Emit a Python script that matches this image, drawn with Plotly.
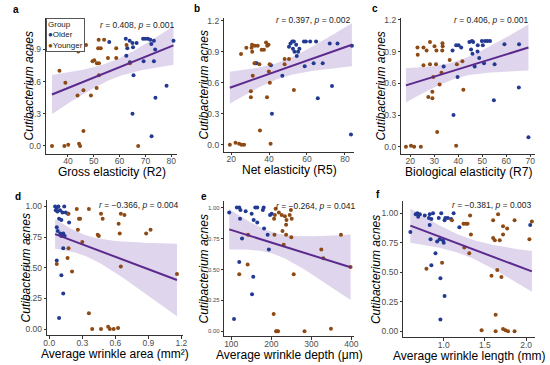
import numpy as np
import plotly.graph_objects as go

# ---------------- data ----------------
a_old_x = [56.0, 62.4, 63.9, 65.0, 66.6, 65.2, 63.0, 62.6, 64.0, 69.1, 70.0, 71.0, 71.9, 73.3, 72.3, 73.8, 80.9, 69.3, 73.3, 65.4, 78.2, 73.9, 65.0, 72.4]
a_old_y = [0.97, 1.00, 0.98, 0.96, 0.96, 0.92, 0.91, 0.84, 0.78, 1.00, 1.00, 1.00, 0.99, 0.98, 0.95, 0.90, 0.98, 0.79, 0.79, 0.66, 0.56, 0.45, 0.30, 0.09]
a_young_x = [33.8, 38.6, 40.1, 44.3, 44.7, 67.2, 46.0, 36.7, 39.0, 43.7, 46.0, 51.1, 48.9, 44.0, 44.3, 44.6, 44.0, 47.0, 51.9, 54.0, 51.7, 52.7, 49.5, 50.2, 51.2, 52.0, 55.5, 58.7, 58.7, 62.7, 64.0, 52.0]
a_young_y = [0.00, 0.00, 0.01, 0.02, 0.00, 0.00, 0.14, 0.70, 0.59, 0.47, 0.52, 0.54, 0.47, 0.95, 0.96, 0.94, 0.88, 0.94, 0.99, 0.99, 0.91, 0.91, 0.79, 0.80, 0.77, 0.77, 0.82, 0.82, 0.91, 0.94, 0.77, 0.66]

b_old_x = [32.8, 33.5, 41.0, 41.5, 47.0, 50.5, 51.3, 52.2, 53.1, 52.6, 54.3, 53.4, 54.6, 55.3, 56.0, 58.4, 59.4, 61.7, 64.8, 58.8, 63.5, 68.3, 72.0, 76.1, 83.7, 73.2, 65.7, 83.2]
b_old_y = [0.79, 0.79, 0.77, 0.30, 0.67, 0.95, 0.98, 1.00, 1.00, 0.93, 0.97, 0.90, 0.86, 0.90, 0.93, 1.00, 1.00, 1.00, 1.00, 0.76, 0.79, 0.79, 0.98, 0.98, 0.96, 0.57, 0.45, 0.10]
b_young_x = [19.3, 22.3, 24.2, 25.5, 26.8, 40.8, 35.2, 25.2, 28.0, 31.0, 30.8, 32.5, 31.1, 34.0, 36.1, 37.3, 39.0, 38.4, 39.7, 32.3, 34.9, 40.3, 48.2, 50.5, 40.4, 31.4, 30.4, 30.4, 38.9, 53.1, 39.9, 48.2]
b_young_y = [0.00, 0.02, 0.01, 0.00, 0.00, 0.01, 0.14, 0.88, 0.94, 0.97, 0.94, 0.96, 0.90, 0.96, 0.92, 0.92, 0.96, 0.99, 0.97, 0.79, 0.78, 0.78, 0.83, 0.83, 0.60, 0.67, 0.52, 0.46, 0.46, 0.53, 0.71, 0.78]

c_old_x = [33.9, 37.6, 39.1, 40.1, 41.2, 39.7, 38.0, 44.6, 45.7, 46.2, 45.3, 45.9, 46.8, 48.1, 48.0, 48.7, 49.8, 50.2, 51.1, 52.1, 53.2, 50.7, 55.1, 59.2, 65.3, 65.2, 54.8, 69.2]
c_old_y = [0.76, 0.91, 0.96, 0.96, 0.94, 0.66, 0.30, 0.99, 1.00, 0.99, 0.92, 0.88, 0.76, 0.96, 0.90, 0.84, 1.00, 0.96, 1.00, 1.00, 1.00, 0.79, 0.78, 0.97, 0.97, 0.56, 0.44, 0.09]
c_young_x = [18.2, 20.3, 21.6, 24.4, 39.1, 31.2, 23.0, 23.1, 25.5, 26.8, 28.2, 30.1, 30.9, 33.4, 33.5, 33.3, 25.5, 28.2, 30.7, 36.4, 39.4, 41.7, 33.0, 29.6, 32.2, 29.2, 27.5, 29.2, 42.1]
c_young_y = [0.00, 0.01, 0.00, 0.00, 0.01, 0.14, 0.94, 0.87, 0.94, 0.91, 0.99, 0.95, 0.91, 0.98, 0.95, 0.91, 0.77, 0.78, 0.78, 0.82, 0.78, 0.81, 0.70, 0.66, 0.59, 0.52, 0.47, 0.46, 0.54]

d_old_x = [0.053, 0.068, 0.083, 0.059, 0.074, 0.098, 0.12, 0.136, 0.15, 0.17, 0.089, 0.11, 0.18, 0.068, 0.077, 0.10, 0.127, 0.11, 0.14, 0.127, 0.068, 0.11, 0.127, 0.089]
d_old_y = [1.00, 0.99, 1.00, 0.97, 0.96, 0.97, 0.95, 1.00, 0.95, 0.94, 0.90, 0.89, 0.87, 0.83, 0.80, 0.78, 0.78, 0.76, 0.76, 0.66, 0.56, 0.44, 0.29, 0.09]
d_young_x = [0.25, 0.36, 0.47, 0.485, 0.27, 0.28, 0.175, 0.26, 0.44, 0.45, 0.30, 0.175, 0.166, 0.068, 0.207, 0.65, 0.683, 0.63, 0.64, 0.88, 0.92, 0.65, 1.16, 0.36, 0.39, 0.47, 0.535, 0.55, 0.585, 0.625]
d_young_y = [0.98, 0.98, 0.94, 0.90, 0.90, 0.90, 0.94, 0.81, 0.77, 0.76, 0.71, 0.66, 0.58, 0.53, 0.47, 0.94, 0.93, 0.86, 0.78, 0.78, 0.81, 0.51, 0.45, 0.13, 0.00, 0.00, 0.02, 0.00, 0.00, 0.01]

e_old_x = [95, 114, 120, 123, 136, 151, 160, 165, 181, 179, 197, 201, 122, 156, 165, 182, 191, 127, 194, 120, 155, 152, 107]
e_old_y = [0.96, 1.00, 1.00, 0.98, 0.97, 0.95, 1.00, 1.00, 1.00, 0.98, 0.94, 0.95, 0.91, 0.90, 0.88, 0.83, 0.78, 0.75, 0.66, 0.56, 0.44, 0.30, 0.10]
e_young_x = [211, 209, 207, 219, 226, 234, 246, 249, 251, 238, 237, 228, 237, 250, 208, 231, 142, 141, 120, 256, 325, 330, 374, 398, 206, 212, 214, 217, 283, 349]
e_young_y = [0.99, 0.94, 0.91, 0.96, 0.94, 0.93, 0.94, 0.98, 0.91, 0.90, 0.86, 0.81, 0.78, 0.76, 0.78, 0.70, 0.78, 0.54, 0.46, 0.46, 0.66, 0.59, 0.78, 0.52, 0.14, 0.00, 0.00, 0.00, 0.00, 0.02]

f_old_x = [0.595, 0.66, 0.68, 0.71, 0.69, 0.77, 0.83, 0.87, 0.82, 0.85, 0.83, 0.94, 0.97, 1.02, 1.01, 1.05, 1.12, 1.09, 1.19, 0.84, 0.95, 0.99, 1.00, 0.92, 0.90, 0.85, 0.96, 1.01, 0.96, 2.05]
f_old_y = [0.84, 0.99, 1.00, 0.99, 0.97, 0.98, 0.99, 1.00, 0.96, 0.95, 0.90, 0.96, 1.00, 0.96, 0.94, 0.96, 1.00, 0.95, 0.88, 0.78, 0.78, 0.77, 0.75, 0.76, 0.66, 0.56, 0.45, 0.30, 0.10, 0.90]
f_young_x = [0.79, 0.98, 1.10, 1.24, 1.27, 1.29, 1.32, 1.25, 1.31, 1.33, 1.60, 1.66, 1.72, 1.60, 1.62, 1.68, 1.72, 1.77, 1.86, 2.04, 2.07, 1.65, 1.58, 1.70, 1.63, 1.46, 1.63, 1.72, 1.75, 1.78, 1.86]
f_young_y = [0.53, 0.58, 0.94, 0.91, 0.91, 0.91, 0.98, 0.71, 0.66, 0.82, 0.94, 0.99, 0.89, 0.79, 0.77, 0.77, 0.82, 0.87, 0.94, 0.78, 0.93, 0.52, 0.47, 0.46, 0.14, 0.01, 0.00, 0.02, 0.01, 0.00, 0.00]

panel_letters = ["a", "b", "c", "d", "e", "f"]
x_titles = ["Gross elasticity (R2)", "Net elasticity (R5)", "Biological elasticity (R7)",
            "Average wrinkle area (mm²)", "Average wrinkle depth (μm)", "Average wrinkle length (mm)"]
y_title = "Cutibacterium acnes"
r_values = ["0.408", "0.397", "0.406", "\u22120.366", "\u22120.264", "\u22120.381"]
p_values = ["0.001", "0.002", "0.001", "0.004", "0.041", "0.003"]
group_names = ["Older", "Younger"]

panels = [
    (a_old_x, a_old_y, a_young_x, a_young_y),
    (b_old_x, b_old_y, b_young_x, b_young_y),
    (c_old_x, c_old_y, c_young_x, c_young_y),
    (d_old_x, d_old_y, d_young_x, d_young_y),
    (e_old_x, e_old_y, e_young_x, e_young_y),
    (f_old_x, f_old_y, f_young_x, f_young_y),
]

# ---------------- styling / layout ----------------
W, H = 550, 365
FONT = "Arial, Liberation Sans, sans-serif"
C_OLD = "#233a93"
C_YOUNG = "#8e4a14"
C_LINE = "#5b2a8c"
C_RIBBON = "rgba(140,105,190,0.28)"

# plot-area boxes in pixels: left, right, top, bottom
boxes = [(43, 176, 15, 152), (224, 356, 15, 150), (404, 540, 15, 152),
         (44, 182, 199, 335), (224, 356, 200, 336), (406, 540, 200, 337)]
x_ranges = [[31.6, 82.3], [16.4, 84.9], [16.3, 72.0], [-0.018, 1.215], [82.8, 407], [0.51, 2.11]]
y_ranges = [[-0.073, 1.194], [-0.067, 1.229], [-0.066, 1.219], [-0.05, 1.05], [-0.04, 1.05], [-0.05, 1.10]]
x_dticks = [10, 20, 10, 0.3, 100, 0.5]
x_fmt = ["d", "d", "d", ".1f", "d", ".1f"]
y_dticks = [0.3, 0.3, 0.3, 0.25, 0.25, 0.25]
y_fmt = [".1f", ".1f", ".1f", ".2f", ".2f", ".2f"]
ytick_sizes = [8.5, 8.5, 8.5, 8.5, 6, 8.5]


def t975(df):
    z = 1.959964
    return z + (z**3 + z) / (4 * df) + (5 * z**5 + 16 * z**3 + 3 * z) / (96 * df**2)


fig = go.Figure()
annotations = []
layout_axes = {}

for i, (ox, oy, yx, yy) in enumerate(panels):
    k = "" if i == 0 else str(i + 1)
    xa, ya = "x" + k, "y" + k
    L, R, T, B = boxes[i]

    # regression with 95% CI (as geom_smooth(method = "lm"))
    X = np.array(ox + yx, dtype=float)
    Y = np.array(oy + yy, dtype=float)
    n = len(X)
    xm = X.mean()
    sxx = ((X - xm) ** 2).sum()
    slope = ((X - xm) * (Y - Y.mean())).sum() / sxx
    icpt = Y.mean() - slope * xm
    resid = Y - (icpt + slope * X)
    s = np.sqrt((resid ** 2).sum() / (n - 2))
    gx = np.linspace(X.min(), X.max(), 80)
    gy = icpt + slope * gx
    se = s * np.sqrt(1.0 / n + (gx - xm) ** 2 / sxx)
    tq = t975(n - 2)
    lo, hi = gy - tq * se, gy + tq * se

    fig.add_trace(go.Scatter(x=np.concatenate([gx, gx[::-1]]), y=np.concatenate([hi, lo[::-1]]),
                             fill="toself", fillcolor=C_RIBBON, line=dict(width=0),
                             mode="lines", hoverinfo="skip", showlegend=False, xaxis=xa, yaxis=ya))
    fig.add_trace(go.Scatter(x=ox, y=oy, mode="markers", name=group_names[0],
                             marker=dict(color=C_OLD, size=4), showlegend=False, xaxis=xa, yaxis=ya))
    fig.add_trace(go.Scatter(x=yx, y=yy, mode="markers", name=group_names[1],
                             marker=dict(color=C_YOUNG, size=4), showlegend=False, xaxis=xa, yaxis=ya))
    fig.add_trace(go.Scatter(x=gx, y=gy, mode="lines", line=dict(color=C_LINE, width=2),
                             hoverinfo="skip", showlegend=False, xaxis=xa, yaxis=ya))

    common = dict(showgrid=False, zeroline=False, showline=True, linecolor="#333333", linewidth=1,
                  ticks="outside", ticklen=2.5, tickcolor="#333333", tickwidth=1)
    layout_axes["xaxis" + k] = dict(domain=[L / W, R / W], anchor=ya, range=x_ranges[i],
                                    dtick=x_dticks[i], tick0=0, tickformat=x_fmt[i], ticklabelstandoff=-3,
                                    tickfont=dict(size=8.5, color="#4d4d4d", family=FONT), **common)
    layout_axes["yaxis" + k] = dict(domain=[1 - B / H, 1 - T / H], anchor=xa, range=y_ranges[i],
                                    dtick=y_dticks[i], tick0=0, tickformat=y_fmt[i],
                                    tickfont=dict(size=ytick_sizes[i], color="#4d4d4d", family=FONT), **common)

    # x axis title
    annotations.append(dict(text=x_titles[i], xref="paper", yref="paper",
                            x=(L + R) / 2 / W, y=1 - (B + 18.5) / H, xanchor="center", yanchor="middle",
                            showarrow=False, font=dict(size=12, color="black", family=FONT)))
    # y axis title
    ytx = [25, 203, 383, 22, 203, 378][i]
    annotations.append(dict(text="<i>" + y_title + "</i>", xref="paper", yref="paper",
                            x=ytx / W, y=1 - (T + B) / 2 / H, xanchor="center", yanchor="middle",
                            textangle=-90, showarrow=False, font=dict(size=12, color="black", family=FONT)))
    # panel letter
    lx, ly = [(12, 7), (196, 6), (377, 6), (14, 195), (203, 195), (380, 193)][i]
    annotations.append(dict(text="<b>" + panel_letters[i] + "</b>", xref="paper", yref="paper",
                            x=lx / W, y=1 - ly / H, xanchor="center", yanchor="middle",
                            showarrow=False, font=dict(size=10, color="black", family=FONT)))
    # r / p label
    rx, ry = [(175, 22), (354, 17), (535, 17), (179, 204), (359, 205), (538, 204)][i]
    annotations.append(dict(text="<i>r</i> = " + r_values[i] + ", <i>p</i> = " + p_values[i],
                            xref="paper", yref="paper", x=rx / W, y=1 - ry / H,
                            xanchor="right", yanchor="middle", showarrow=False,
                            font=dict(size=8.5, color="#222222", family=FONT)))

# legend box (panel a)
annotations.append(dict(
    text="Group<br><span style='color:%s'>\u25CF</span>Older<br><span style='color:%s'>\u25CF</span>Younger" % (C_OLD, C_YOUNG),
    xref="paper", yref="paper", x=43 / W, y=1 - 15 / H, xanchor="left", yanchor="top",
    align="left", showarrow=False, bgcolor="white", bordercolor="#555555", borderwidth=1, borderpad=1,
    font=dict(size=8, color="#222222", family=FONT)))

fig.update_layout(width=W, height=H, margin=dict(l=0, r=0, t=0, b=0),
                  paper_bgcolor="white", plot_bgcolor="white",
                  font=dict(family=FONT), annotations=annotations, showlegend=False, **layout_axes)

fig.write_html("out.html", config={"displayModeBar": False},
               post_script="document.body.style.margin='0px';document.body.style.padding='0px';")
